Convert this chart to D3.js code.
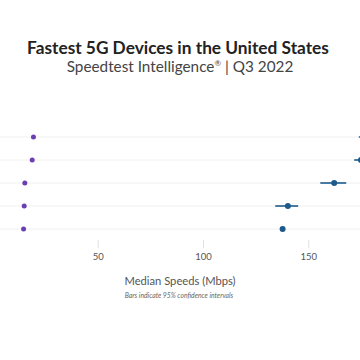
<!DOCTYPE html>
<html><head><meta charset="utf-8">
<script src="https://cdn.jsdelivr.net/npm/d3@7"></script>
<style>body{margin:0;background:#fff}svg{display:block}</style>
</head><body>
<svg id="c" width="360" height="360"></svg>
<script>
// Rows (device labels are cropped out of the visible frame)
const devices = ["Device 1","Device 2","Device 3","Device 4","Device 5"];
const downloadMedian = [181.0, 175.0, 162.3, 140.3, 137.8];
const downloadLow    = [174.0, 171.8, 155.7, 134.3, 136.8];
const downloadHigh   = [188.0, 178.0, 168.0, 145.2, 138.8];
const uploadMedian   = [19.5, 18.9, 15.4, 15.1, 14.8];
const tickValues = [50, 100, 150];
const title = "Fastest 5G Devices in the United States";
const subtitleMain = "Speedtest Intelligence";
const subtitleMark = "®";
const subtitleTail = " | Q3 2022";
const axisTitle = "Median Speeds (Mbps)";
const note = "Bars indicate 95% confidence intervals";

const svg = d3.select("#c");
const x = d3.scaleLinear().domain([0, 200]).range([-7.6, 413.6]);
const y = d3.scalePoint().domain(devices).range([137, 229]);

const font = "Lato, 'Open Sans', sans-serif";

svg.append("text").attr("x", 178).attr("y", 54).attr("text-anchor", "middle")
  .attr("font-family", font).attr("font-weight", 700).attr("font-size", 17.3)
  .attr("fill", "#222").text(title);
const st = svg.append("text").attr("x", 180).attr("y", 72).attr("text-anchor", "middle")
  .attr("font-family", font).attr("font-size", 15.3).attr("fill", "#444");
st.append("tspan").text(subtitleMain);
st.append("tspan").attr("font-size", 8).attr("dy", -6).text(subtitleMark);
st.append("tspan").attr("dy", 6).text(subtitleTail);

// gridlines
svg.append("g").selectAll("line").data(devices).join("line")
  .attr("x1", 0).attr("x2", 360)
  .attr("y1", d => y(d)).attr("y2", d => y(d))
  .attr("stroke", "#f0f0f0").attr("stroke-width", 1);

// axis
const ax = svg.append("g").attr("transform", "translate(0,240)")
  .call(d3.axisBottom(x).tickValues(tickValues).tickSize(8).tickPadding(5));
ax.select(".domain").remove();
ax.selectAll(".tick line").attr("stroke", "#e2e2e2");
ax.selectAll(".tick text").attr("font-family", font).attr("font-size", 9.5).attr("fill", "#555");

// upload dots
svg.append("g").selectAll("circle").data(devices).join("circle")
  .attr("cx", (d, i) => x(uploadMedian[i])).attr("cy", d => y(d))
  .attr("r", 2.5).attr("fill", "#6b3fb3");

// download CI bars and dots
const dl = svg.append("g");
dl.selectAll("line").data(devices).join("line")
  .attr("x1", (d, i) => x(downloadLow[i])).attr("x2", (d, i) => x(downloadHigh[i]))
  .attr("y1", d => y(d)).attr("y2", d => y(d))
  .attr("stroke", "#1d5a8c").attr("stroke-width", 1.6);
dl.selectAll("circle").data(devices).join("circle")
  .attr("cx", (d, i) => x(downloadMedian[i])).attr("cy", d => y(d))
  .attr("r", 3).attr("fill", "#1d5a8c");

svg.append("text").attr("x", 180).attr("y", 285).attr("text-anchor", "middle")
  .attr("font-family", font).attr("font-size", 11.2).attr("fill", "#555").text(axisTitle);
svg.append("text").attr("x", 179).attr("y", 298).attr("text-anchor", "middle")
  .attr("font-family", font).attr("font-style", "italic").attr("font-size", 6.8)
  .attr("fill", "#666").text(note);
</script>
</body></html>
